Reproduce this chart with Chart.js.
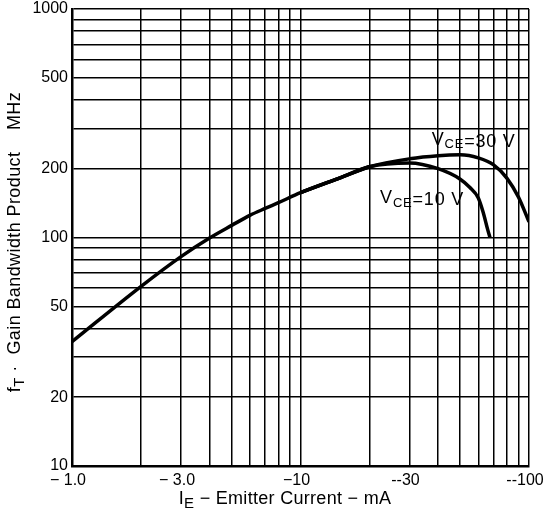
<!DOCTYPE html>
<html>
<head>
<meta charset="utf-8">
<script src="https://cdn.jsdelivr.net/npm/chart.js@4"></script>
<style>
  body { margin: 0; background: #fff; }
</style>
</head>
<body>
<canvas id="chart" width="547" height="523"></canvas>
<script>
// emitter current (mA, magnitude) and gain bandwidth product (MHz)
const commonCurrent = [1, 2, 3, 4, 5, 6, 7, 8, 10, 15, 20];
const commonFt = [35, 61, 82.5, 99.5, 113, 125, 134, 142, 157, 183, 204];

const vce30Current = [30, 40, 50, 60, 70, 80, 90, 100];
const vce30Ft = [221, 228, 230, 223, 208, 182, 150, 117];

const vce10Current = [30, 40, 50, 55, 60, 63, 66, 67.5];
const vce10Ft = [212, 200, 180, 166, 149, 129, 108, 100];

const xGrid = [1, 2, 3, 4, 5, 6, 7, 8, 9, 10, 20, 30, 40, 50, 60, 70, 80, 90, 100];
const xLabelValues = [1, 3, 10, 30, 100];
const xLabels = ['\u2212 1.0', '\u2212 3.0', '\u221210', '--30', '--100'];

const yGrid = [10, 20, 30, 40, 50, 60, 70, 80, 90, 100, 200, 300, 400, 500, 600, 700, 800, 900, 1000];
const yLabelValues = [10, 20, 50, 100, 200, 500, 1000];
const yLabels = ['10', '20', '50', '100', '200', '500', '1000'];

// curve labels: [current, ft] where the text starts
const curveLabels = [
  { sub: 'CE', rest: '=30 V', at: [37.5, 262] },
  { sub: 'CE', rest: '=10 V', at: [22.3, 146] },
];

const toPoints = (xs, ys) => xs.map((x, i) => ({ x: x, y: ys[i] }));

const font = '"Liberation Sans", Arial, sans-serif';

// draw runs of [text, size, dy] one after another
const drawRuns = (ctx, runs, x, y, spacing) => {
  ctx.letterSpacing = spacing + 'px';
  runs.forEach(r => {
    ctx.font = r[1] + 'px ' + font;
    ctx.fillText(r[0], x, y + r[2]);
    x += ctx.measureText(r[0]).width;
  });
};
const runsWidth = (ctx, runs, spacing) => {
  ctx.letterSpacing = spacing + 'px';
  let w = 0;
  runs.forEach(r => { ctx.font = r[1] + 'px ' + font; w += ctx.measureText(r[0]).width; });
  return w;
};

const textPlugin = {
  id: 'texts',
  afterDraw(chart) {
    const ctx = chart.ctx;
    const xs = chart.scales.x, ys = chart.scales.y;
    ctx.save();
    ctx.fillStyle = '#000';
    ctx.textBaseline = 'middle';
    ctx.textAlign = 'left';

    // curve labels
    curveLabels.forEach(l => {
      const px = xs.getPixelForValue(l.at[0]);
      const py = ys.getPixelForValue(l.at[1]);
      drawRuns(ctx, [['V', 18, -2], [l.sub, 13, 3], [l.rest, 18, 0]], px, py, 0.8);
    });

    // x title
    const xRuns = [['I', 18, 0], ['E', 15, 5], [' \u2212 Emitter Current \u2212 mA', 18, 0]];
    const xw = runsWidth(ctx, xRuns, 0.3);
    drawRuns(ctx, xRuns, 285 - xw / 2, 499, 0.3);

    // y title, rotated
    ctx.translate(15, 242);
    ctx.rotate(-Math.PI / 2);
    const yRuns = [['f', 18, 0], ['T', 15, 5], [' \u00b7  Gain Bandwidth Product    MHz', 18, 0]];
    const yw = runsWidth(ctx, yRuns, 0.4);
    drawRuns(ctx, yRuns, -yw / 2, 0, 0.4);
    ctx.restore();
  }
};

const lineStyle = {
  borderColor: '#000',
  borderWidth: 3.5,
  pointRadius: 0,
  showLine: true,
  cubicInterpolationMode: 'monotone',
  fill: false,
};

new Chart(document.getElementById('chart'), {
  type: 'scatter',
  data: {
    datasets: [
      { ...lineStyle, label: 'common', data: toPoints(commonCurrent, commonFt) },
      { ...lineStyle, label: 'VCE = 30 V', data: toPoints(commonCurrent.slice(-3).concat(vce30Current), commonFt.slice(-3).concat(vce30Ft)) },
      { ...lineStyle, label: 'VCE = 10 V', data: toPoints(commonCurrent.slice(-3).concat(vce10Current), commonFt.slice(-3).concat(vce10Ft)) },
    ],
  },
  options: {
    responsive: false,
    animation: false,
    layout: { padding: { top: 9, right: 18, left: 0, bottom: 0 } },
    plugins: {
      legend: { display: false },
      tooltip: { enabled: false },
    },
    scales: {
      x: {
        type: 'logarithmic',
        min: 1,
        max: 100,
        afterBuildTicks: scale => { scale.ticks = xGrid.map(v => ({ value: v })); },
        afterFit: scale => { scale.height = 57; scale.paddingLeft = 0; scale.paddingRight = 0; },
        grid: { color: '#000', lineWidth: 1.5, drawTicks: false },
        border: { color: '#000', width: 2.5 },
        ticks: {
          autoSkip: false,
          maxRotation: 0,
          padding: 5,
          labelOffset: -4,
          color: '#000',
          font: { family: font, size: 16 },
          callback: v => {
            const i = xLabelValues.indexOf(v);
            return i >= 0 ? xLabels[i] : '';
          },
        },
      },
      y: {
        type: 'logarithmic',
        min: 10,
        max: 1000,
        afterBuildTicks: scale => { scale.ticks = yGrid.map(v => ({ value: v })); },
        afterFit: scale => { scale.width = 72; scale.paddingTop = 0; scale.paddingBottom = 0; },
        grid: { color: '#000', lineWidth: 1.5, drawTicks: false },
        border: { color: '#000', width: 2.5 },
        ticks: {
          autoSkip: false,
          padding: 4,
          color: '#000',
          font: { family: font, size: 16 },
          callback: v => {
            const i = yLabelValues.indexOf(v);
            return i >= 0 ? yLabels[i] : '';
          },
        },
      },
    },
  },
  plugins: [textPlugin],
});
</script>
</body>
</html>
